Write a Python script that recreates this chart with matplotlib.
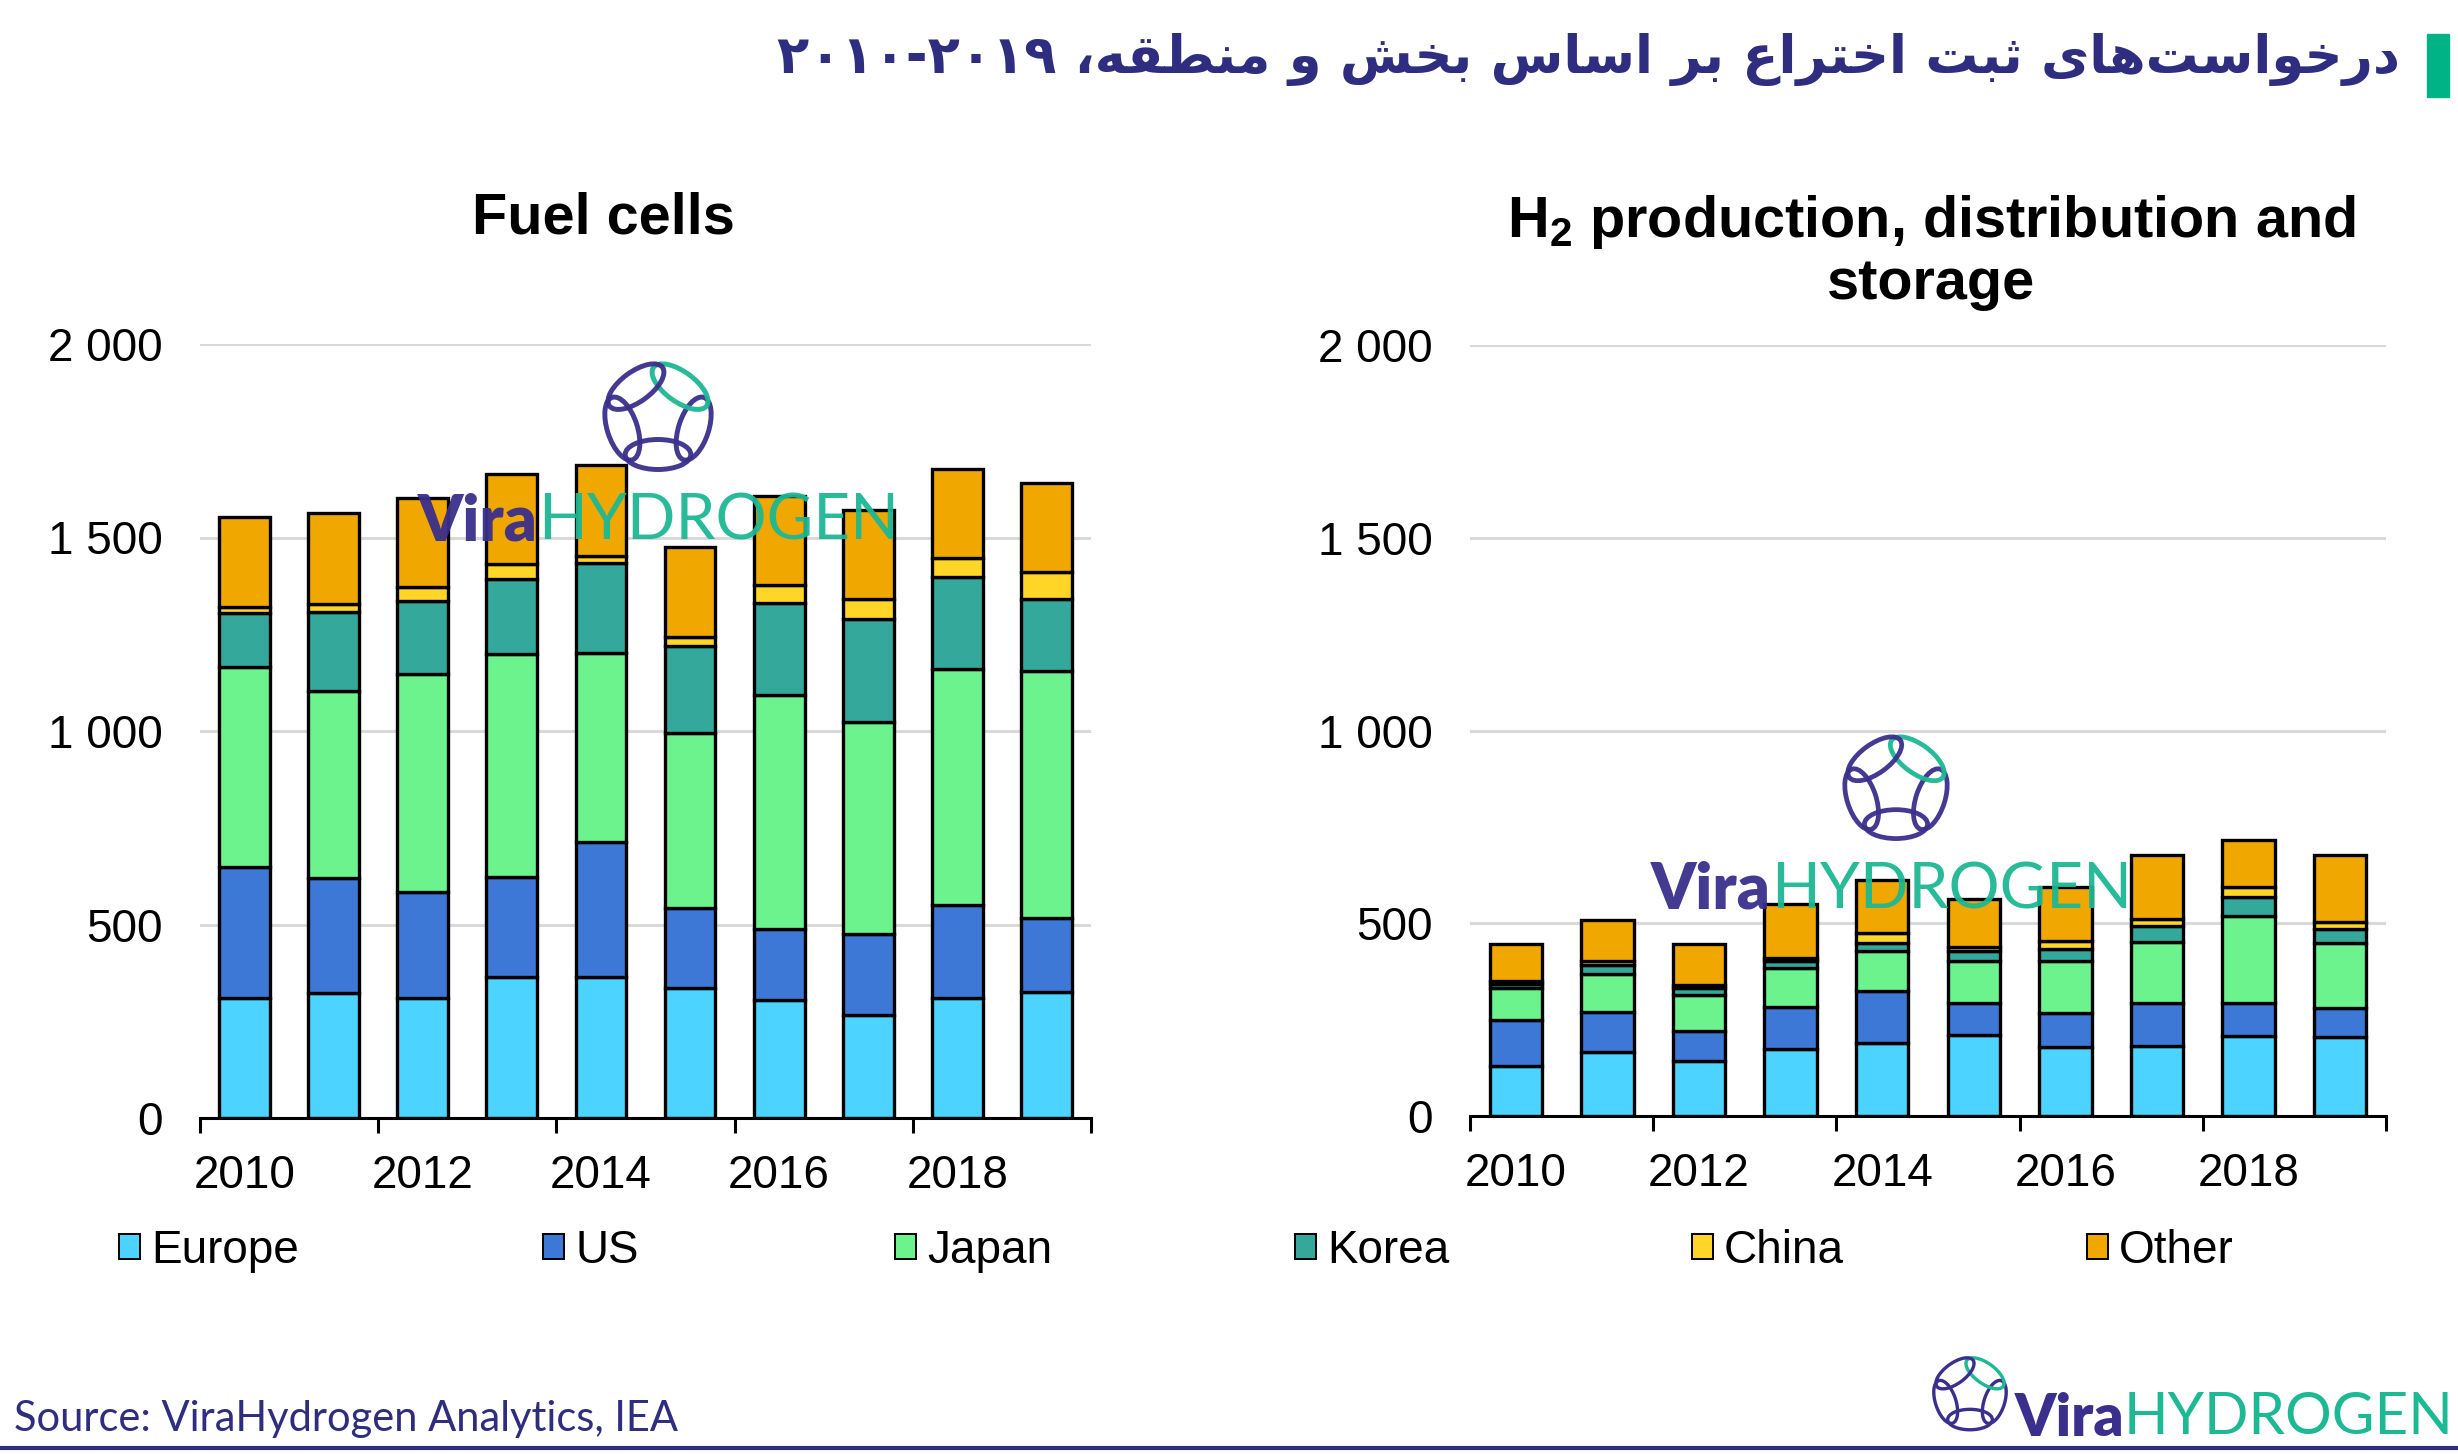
import numpy as np
import matplotlib
matplotlib.use("Agg")
import matplotlib.pyplot as plt
from matplotlib.patches import Patch, Ellipse, Rectangle
from matplotlib.ticker import FuncFormatter, FixedLocator

# ---- data ----
years = np.arange(2010, 2020)
series = ["Europe", "US", "Japan", "Korea", "China", "Other"]
colors = ["#4CD3FF", "#3D78D6", "#6CF38E", "#33A89B", "#FFD527", "#F0A800"]

fc_europe = [310, 322, 310, 365, 365, 336, 305, 267, 310, 326]
fc_us = [339, 299, 273, 258, 349, 206, 183, 208, 240, 191]
fc_japan = [517, 483, 564, 575, 487, 452, 606, 547, 609, 637]
fc_korea = [138, 203, 189, 194, 233, 226, 236, 268, 238, 188]
fc_china = [17, 21, 35, 39, 18, 23, 47, 50, 49, 69]
fc_other = [233, 236, 232, 233, 235, 232, 231, 231, 232, 229]

h2_europe = [129, 166, 143, 174, 189, 209, 179, 181, 207, 205]
h2_us = [120, 104, 78, 109, 135, 83, 87, 111, 85, 76]
h2_japan = [83, 98, 93, 101, 103, 111, 135, 160, 227, 168]
h2_korea = [10, 24, 17, 17, 22, 24, 31, 41, 48, 35]
h2_china = [9, 9, 9, 9, 26, 11, 21, 17, 28, 19]
h2_other = [94, 107, 106, 139, 137, 124, 140, 166, 122, 174]

fuel_cells = [fc_europe, fc_us, fc_japan, fc_korea, fc_china, fc_other]
h2_prod = [h2_europe, h2_us, h2_japan, h2_korea, h2_china, h2_other]

title_fa = "درخواست‌های ثبت اختراع بر اساس بخش و منطقه،"
years_fa = "۲۰۱۰-۲۰۱۹"
source_txt = "Source: ViraHydrogen Analytics, IEA"

INDIGO = "#2E2D7F"
LOGO_INDIGO = "#3A2F8C"
LOGO_GREEN = "#1DB894"

# ---- simple Persian shaping (matplotlib has no text shaping) ----
FORMS = {
    'ا': ('\uFE8D', '\uFE8E'), 'د': ('\uFEA9', '\uFEAA'),
    'ر': ('\uFEAD', '\uFEAE'), 'و': ('\uFEED', '\uFEEE'),
    'ب': ('\uFE8F', '\uFE90', '\uFE91', '\uFE92'),
    'ت': ('\uFE95', '\uFE96', '\uFE97', '\uFE98'),
    'ث': ('\uFE99', '\uFE9A', '\uFE9B', '\uFE9C'),
    'خ': ('\uFEA5', '\uFEA6', '\uFEA7', '\uFEA8'),
    'س': ('\uFEB1', '\uFEB2', '\uFEB3', '\uFEB4'),
    'ش': ('\uFEB5', '\uFEB6', '\uFEB7', '\uFEB8'),
    'ط': ('\uFEC1', '\uFEC2', '\uFEC3', '\uFEC4'),
    'ع': ('\uFEC9', '\uFECA', '\uFECB', '\uFECC'),
    'ق': ('\uFED5', '\uFED6', '\uFED7', '\uFED8'),
    'م': ('\uFEE1', '\uFEE2', '\uFEE3', '\uFEE4'),
    'ن': ('\uFEE5', '\uFEE6', '\uFEE7', '\uFEE8'),
    'ه': ('\uFEE9', '\uFEEA', '\uFEEB', '\uFEEC'),
    'ی': ('\uFBFC', '\uFBFD', '\uFBFE', '\uFBFF'),
}


def shape_fa(text):
    out = []
    for i, ch in enumerate(text):
        if ch not in FORMS:
            if ch != '\u200c':
                out.append(ch)
            continue
        f = FORMS[ch]
        prev = text[i - 1] if i > 0 else ''
        nxt = text[i + 1] if i + 1 < len(text) else ''
        join_prev = prev in FORMS and len(FORMS[prev]) == 4
        join_next = len(f) == 4 and nxt in FORMS
        if join_prev and join_next:
            out.append(f[3])
        elif join_prev:
            out.append(f[1])
        elif join_next:
            out.append(f[2])
        else:
            out.append(f[0])
    return ''.join(reversed(out))


plt.rcParams['font.family'] = ['Liberation Sans', 'DejaVu Sans']
plt.rcParams['mathtext.fontset'] = 'custom'
plt.rcParams['mathtext.rm'] = 'Liberation Sans'
plt.rcParams['mathtext.bf'] = 'Liberation Sans:bold'

W, H = 2458, 1454
fig = plt.figure(figsize=(W / 100, H / 100), dpi=100)


def px(x, y):
    return x / W, 1 - y / H


def stacked(ax, data):
    x = np.arange(len(years))
    bottom = np.zeros(len(years))
    for vals, c in zip(data, colors):
        ax.bar(x, vals, 0.57, bottom=bottom, color=c, edgecolor="black",
               linewidth=2.4, zorder=3)
        bottom += np.array(vals)
    ax.set_ylim(0, 2000)
    ax.set_xlim(-0.5, len(years) - 0.5)
    ax.yaxis.set_major_locator(FixedLocator([0, 500, 1000, 1500, 2000]))
    ax.yaxis.set_major_formatter(FuncFormatter(lambda v, p: f"{int(v):,}".replace(",", " ")))
    ax.grid(axis="y", color="#D9D9D9", linewidth=2.2, zorder=0)
    ax.tick_params(axis="y", length=0, pad=27, labelsize=33)
    # tick marks between every second category, year labels under even years
    ax.set_xticks(np.arange(-0.5, len(years), 2.0))
    ax.set_xticklabels([])
    ax.set_xticks(np.arange(0, len(years), 2), minor=True)
    ax.set_xticklabels([str(y) for y in years[::2]], minor=True)
    ax.tick_params(axis="x", which="major", length=11, width=2.2, direction="out")
    ax.tick_params(axis="x", which="minor", length=0, pad=26, labelsize=33)
    for s in ["top", "left", "right"]:
        ax.spines[s].set_visible(False)
    ax.spines["bottom"].set_linewidth(2.2)
    ax.spines["bottom"].set_zorder(4)


ax1 = fig.add_axes([200 / W, 1 - 1118 / H, 891 / W, (1118 - 344) / H])
ax2 = fig.add_axes([1470 / W, 1 - 1116 / H, 916 / W, (1116 - 345) / H])
stacked(ax1, fuel_cells)
stacked(ax2, h2_prod)

fig.text(*px(603, 218), "Fuel cells", ha="center", va="center",
         fontsize=41.5, fontweight="bold")
fig.text(*px(1931, 252), "H$_\\mathbf{2}$ production, distribution and\nstorage",
         ha="center", va="center", fontsize=41.5, fontweight="bold", linespacing=1.12)

# legend, one entry per slot as in the original layout
legend_x = [125, 549, 901, 1301, 1698, 2093]
for name, c, lx in zip(series, colors, legend_x):
    fig.legend(handles=[Patch(facecolor=c, edgecolor="black", linewidth=1.4, label=name)],
               loc="center left", bbox_to_anchor=px(lx - 6, 1251), frameon=False,
               fontsize=33, handlelength=0.45, handleheight=0.45, handletextpad=0.25,
               borderaxespad=0, borderpad=0)

# Persian header with green marker
fig.text(*px(2400, 60), years_fa + " " + shape_fa(title_fa), ha="right", va="center",
         fontsize=38, fontweight="bold", color=INDIGO, family="DejaVu Sans")
fig.patches.append(Rectangle(px(2427, 97), 22 / W, 63 / H, transform=fig.transFigure,
                             color="#00B386", figure=fig))

# source and bottom rule
fig.text(*px(14, 1419), source_txt, ha="left", va="center", fontsize=30,
         color=INDIGO, family="Lato")
fig.add_artist(plt.Line2D([0, 1], [1 - 1448 / H] * 2, transform=fig.transFigure,
                          color=INDIGO, linewidth=3))


def logo(cx, cy, size, alpha=1.0):
    lax = fig.add_axes([(cx - size / 2) / W, 1 - (cy + size / 2) / H, size / W, size / H],
                       zorder=10)
    lax.set_xlim(-1.8, 1.8)
    lax.set_ylim(-1.8, 1.8)
    lax.set_aspect("equal")
    lax.axis("off")
    for k in range(5):
        th = np.deg2rad(-90 + 72 * k)
        col = LOGO_GREEN if k == 2 else LOGO_INDIGO
        lax.add_patch(Ellipse((1.0 * np.cos(th), 1.0 * np.sin(th)), 1.75, 0.8,
                              angle=np.rad2deg(th) + 90, fill=False, edgecolor=col,
                              linewidth=size / 38, alpha=alpha))


def wordmark(xsplit, y, fs, alpha=1.0):
    fig.text(*px(xsplit, y), "Vira", ha="right", va="center", fontsize=fs,
             fontweight="heavy", color=LOGO_INDIGO, family="Lato", alpha=alpha, zorder=10)
    fig.text(*px(xsplit, y), "HYDROGEN", ha="left", va="center", fontsize=fs,
             fontweight="normal", color=LOGO_GREEN, family="Lato", alpha=alpha, zorder=10)


logo(658, 417, 135, 0.95)
wordmark(538, 522, 46, 0.95)
logo(1896, 788, 130, 0.95)
wordmark(1771, 890, 46, 0.95)
logo(1970, 1394, 92)
wordmark(2124, 1418, 42)

fig.savefig("out.png", dpi=100)
